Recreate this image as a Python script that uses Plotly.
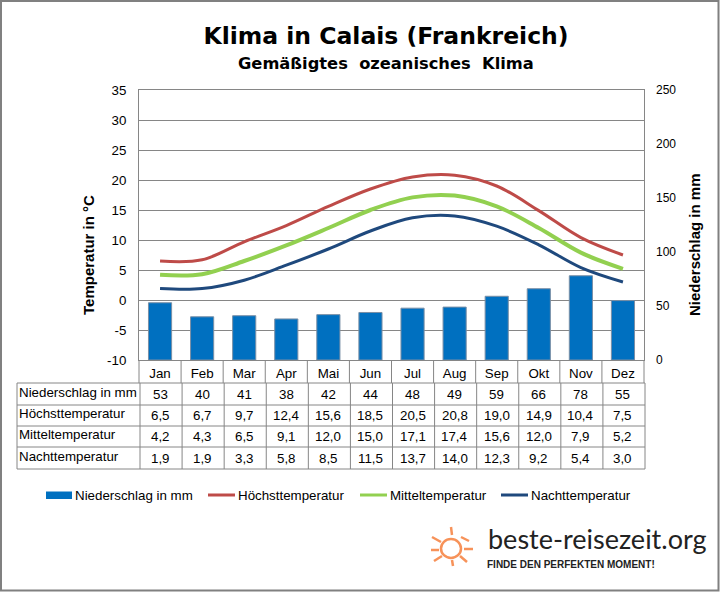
import plotly.graph_objects as go

months = ["Jan", "Feb", "Mar", "Apr", "Mai", "Jun", "Jul", "Aug", "Sep", "Okt", "Nov", "Dez"]
niederschlag = [53, 40, 41, 38, 42, 44, 48, 49, 59, 66, 78, 55]
hoechst = [6.5, 6.7, 9.7, 12.4, 15.6, 18.5, 20.5, 20.8, 19.0, 14.9, 10.4, 7.5]
mittel = [4.2, 4.3, 6.5, 9.1, 12.0, 15.0, 17.1, 17.4, 15.6, 12.0, 7.9, 5.2]
nacht = [1.9, 1.9, 3.3, 5.8, 8.5, 11.5, 13.7, 14.0, 12.3, 9.2, 5.4, 3.0]
temp_ticks = [-10, -5, 0, 5, 10, 15, 20, 25, 30, 35]

LEFT, RIGHT, TOP, BOTTOM = 139, 644, 90, 360
W, H = 720, 592
GRAY = "#868686"
FONT = "Liberation Sans"
BLUE, RED, GREEN, NAVY = "#0070C0", "#BE4B48", "#92D050", "#1F497D"


# paper coordinates span the plot area only, so convert from image pixels
def px(x):
    return (x - LEFT) / (RIGHT - LEFT)


def py(y):
    return (BOTTOM - y) / (BOTTOM - TOP)


def line(x0, y0, x1, y1, color=GRAY, width=1):
    return dict(type="line", xref="paper", yref="paper", x0=px(x0), y0=py(y0), x1=px(x1), y1=py(y1),
                line=dict(color=color, width=width), layer="above")


def label(x, y, text, size=13.33, family=FONT, xref="paper", anchor="center", color="black", angle=0):
    return dict(x=px(x) if xref == "paper" else x, y=py(y), xref=xref, yref="paper", text=text, showarrow=False,
                font=dict(family=family, size=size, color=color), xanchor=anchor, yanchor="middle",
                textangle=angle, borderpad=0, borderwidth=0)


fig = go.Figure()
fig.add_trace(go.Bar(x=months, y=niederschlag, name="Niederschlag in mm", width=0.55, yaxis="y",
                     marker=dict(color=BLUE, line=dict(color="#7A8FA6", width=1))))
fig.add_trace(go.Scatter(x=months, y=hoechst, name="Höchsttemperatur", mode="lines", yaxis="y2",
                         line=dict(color=RED, width=3, shape="spline", smoothing=1)))
fig.add_trace(go.Scatter(x=months, y=mittel, name="Mitteltemperatur", mode="lines", yaxis="y2",
                         line=dict(color=GREEN, width=4, shape="spline", smoothing=1)))
fig.add_trace(go.Scatter(x=months, y=nacht, name="Nachttemperatur", mode="lines", yaxis="y2",
                         line=dict(color=NAVY, width=3, shape="spline", smoothing=1)))

shapes = [dict(type="rect", xref="paper", yref="paper", x0=px(1), y0=py(1), x1=px(718.5), y1=py(590.5),
               line=dict(color="#808080", width=2), layer="below")]

# month row under the plot
step = (RIGHT - LEFT) / 12
for i in range(13):
    shapes.append(line(LEFT + i * step, BOTTOM, LEFT + i * step, 383))

# data table
row_lines = [383, 405, 426, 447, 469]
for y in row_lines:
    shapes.append(line(17, y, RIGHT + 1, y))
shapes.append(line(17, 383, 17, 469))
for i in range(13):
    shapes.append(line(140 + i * step, 383, 140 + i * step, 469))

rows = [("Niederschlag in mm", niederschlag), ("Höchsttemperatur", hoechst),
        ("Mitteltemperatur", mittel), ("Nachttemperatur", nacht)]
annotations = []
for r, (name, values) in enumerate(rows):
    ymid = (row_lines[r] + row_lines[r + 1]) / 2
    annotations.append(label(19, ymid - 2, name, anchor="left"))
    for m, v in zip(months, values):
        annotations.append(label(m, ymid, str(v).replace(".", ","), xref="x"))

# titles
annotations.append(label(386, 64, "<b>Gemäßigtes  ozeanisches  Klima</b>", size=16.3, family="DejaVu Sans"))
annotations.append(label(88, 255, "<b>Temperatur in °C</b>", size=15, angle=-90))
annotations.append(label(694, 245, "<b>Niederschlag in mm</b>", size=15, angle=-90))

# legend, drawn by hand for the wide flat swatches of the original
shapes.append(dict(type="rect", xref="paper", yref="paper", x0=px(46), y0=py(491.5), x1=px(72), y1=py(499),
                   fillcolor=BLUE, line=dict(width=0)))
annotations.append(label(75, 495, "Niederschlag in mm", anchor="left"))
for x, name, color in [(208, "Höchsttemperatur", RED), (360, "Mitteltemperatur", GREEN), (501, "Nachttemperatur", NAVY)]:
    shapes.append(line(x, 495, x + 27, 495, color=color, width=3))
    annotations.append(label(x + 30, 495, name, anchor="left"))

# logo
annotations.append(label(488, 538, "beste-reisezeit.org", size=27, family="Lato", anchor="left", color="#222222"))
annotations.append(label(487, 564, "<b>FINDE DEN PERFEKTEN MOMENT!</b>", size=10, anchor="left", color="#222222"))
ORANGE = "#F79259"
shapes.append(dict(type="circle", xref="paper", yref="paper", x0=px(441), y0=py(539), x1=px(461), y1=py(558),
                   line=dict(color=ORANGE, width=2.5)))
for x0, y0, x1, y1 in [(451, 527, 452, 535), (432, 537, 441, 542), (469, 541, 461, 537), (431, 550, 439, 550),
                       (464, 549, 473, 549), (434, 561, 442, 556), (460, 556, 467, 562), (452, 560, 453, 566)]:
    shapes.append(line(x0, y0, x1, y1, color=ORANGE, width=2.5))

fig.update_layout(
    width=W, height=H, autosize=False, showlegend=False,
    margin=dict(l=LEFT, r=W - RIGHT, t=TOP, b=H - BOTTOM, pad=0),
    paper_bgcolor="white", plot_bgcolor="white",
    font=dict(family=FONT, size=13.33, color="black"),
    title=dict(text="<b>Klima in Calais (Frankreich)</b>", x=386 / W, xanchor="center", xref="container",
               y=1 - 36 / H, yanchor="middle", yref="container",
               font=dict(family="DejaVu Sans", size=23.5, color="black")),
    xaxis=dict(type="category", showgrid=False, ticks="", showline=True, linecolor=GRAY, linewidth=1,
               mirror=True, tickfont=dict(size=13.33), ticklabelstandoff=1),
    yaxis=dict(range=[0, 250], dtick=50, side="right", showgrid=False, showline=False, zeroline=False,
               tickfont=dict(size=12), ticklabelstandoff=11),
    yaxis2=dict(range=[-10, 35], tickmode="array", tickvals=temp_ticks, ticktext=[str(t) for t in temp_ticks],
                overlaying="y", side="left", showgrid=True, gridcolor=GRAY, gridwidth=1,
                zeroline=False, showline=True, linecolor=GRAY, linewidth=1, mirror=True,
                tickfont=dict(size=13.33), ticklabelstandoff=9),
    shapes=shapes,
    annotations=annotations,
)

# the page's default body margin would push the chart off the window
fig.write_html("out.html", config=dict(displayModeBar=False), post_script="document.body.style.margin='0';")
